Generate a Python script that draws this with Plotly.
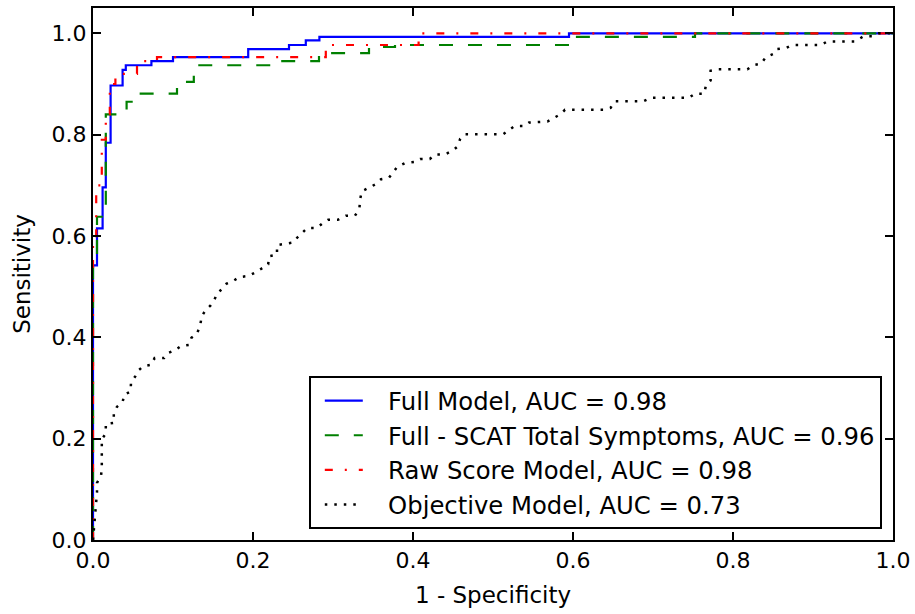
import plotly.graph_objects as go

# ROC corner points (fpr, tpr)
full_fpr = [0.0, 0.0, 0.005, 0.012, 0.016, 0.022, 0.037, 0.041, 0.073, 0.100, 0.194, 0.245, 0.266, 0.283, 0.595, 1.0]
full_tpr = [0.0, 0.542, 0.615, 0.696, 0.784, 0.897, 0.928, 0.937, 0.945, 0.953, 0.969, 0.977, 0.986, 0.993, 1.0, 1.0]

scat_fpr = [0.0, 0.0, 0.005, 0.016, 0.042, 0.057, 0.105, 0.126, 0.230, 0.2825, 0.345, 0.3775, 0.605, 0.7525, 1.0]
scat_tpr = [0.0, 0.55, 0.638, 0.840, 0.865, 0.881, 0.904, 0.937, 0.945, 0.961, 0.973, 0.977, 0.993, 1.0, 1.0]

raw_fpr = [0.0, 0.0, 0.004, 0.011, 0.016, 0.021, 0.028, 0.055, 0.080, 0.291, 0.407, 1.0]
raw_tpr = [0.0, 0.59, 0.70, 0.79, 0.84, 0.90, 0.92, 0.945, 0.953, 0.977, 1.0, 1.0]

obj_fpr = [0.0, 0.004, 0.005, 0.005, 0.010, 0.011, 0.011, 0.011, 0.011, 0.016, 0.016, 0.026, 0.026,
           0.030, 0.037, 0.039, 0.047, 0.0475, 0.0525, 0.057, 0.063, 0.073, 0.077, 0.089, 0.094,
           0.103, 0.110, 0.120, 0.123, 0.130, 0.134, 0.136, 0.141, 0.147, 0.152, 0.155, 0.162,
           0.167, 0.175, 0.183, 0.194, 0.204, 0.211, 0.219, 0.220, 0.230, 0.230, 0.240, 0.250,
           0.256, 0.262, 0.268, 0.280, 0.287, 0.294, 0.306, 0.316, 0.3275, 0.333, 0.334, 0.336,
           0.344, 0.353, 0.360, 0.370, 0.375, 0.380, 0.390, 0.402, 0.409, 0.421, 0.4275, 0.440,
           0.450, 0.456, 0.459, 0.465, 0.513, 0.520, 0.527, 0.539, 0.545, 0.568, 0.577, 0.584,
           0.590, 0.638, 0.647, 0.6525, 0.688, 0.6975, 0.745, 0.7525, 0.764, 0.766, 0.772, 0.772,
           0.782, 0.818, 0.825, 0.835, 0.841, 0.850, 0.855, 0.866, 0.874, 0.910, 0.918, 0.9525,
           0.963, 0.974, 0.982, 1.0]
obj_tpr = [0.0, 0.079, 0.094, 0.113, 0.126, 0.143, 0.162, 0.180, 0.199, 0.210, 0.229, 0.231, 0.250,
           0.263, 0.272, 0.287, 0.293, 0.311, 0.322, 0.335, 0.343, 0.346, 0.359, 0.359, 0.369,
           0.375, 0.383, 0.385, 0.399, 0.407, 0.424, 0.442, 0.454, 0.463, 0.475, 0.487, 0.496,
           0.506, 0.511, 0.519, 0.521, 0.529, 0.536, 0.544, 0.560, 0.563, 0.582, 0.584, 0.587,
           0.598, 0.608, 0.616, 0.616, 0.625, 0.632, 0.632, 0.640, 0.640, 0.654, 0.673, 0.688,
           0.695, 0.702, 0.712, 0.715, 0.725, 0.736, 0.744, 0.746, 0.752, 0.752, 0.761, 0.761,
           0.769, 0.777, 0.792, 0.801, 0.801, 0.809, 0.817, 0.817, 0.824, 0.826, 0.833, 0.840,
           0.849, 0.849, 0.853, 0.866, 0.866, 0.873, 0.873, 0.881, 0.881, 0.896, 0.907, 0.926,
           0.929, 0.929, 0.937, 0.940, 0.953, 0.959, 0.969, 0.971, 0.977, 0.977, 0.984, 0.984,
           0.994, 0.994, 1.0, 1.0]

labels = ["Full Model, AUC = 0.98",
          "Full - SCAT Total Symptoms, AUC = 0.96",
          "Raw Score Model, AUC = 0.98",
          "Objective Model, AUC = 0.73"]

tick_vals = [0.0, 0.2, 0.4, 0.6, 0.8, 1.0]
tick_text = ["0.0", "0.2", "0.4", "0.6", "0.8", "1.0"]

FONT = "DejaVu Sans"
PAD = "\u00a0\u00a0\u2009"

fig = go.Figure()
fig.add_trace(go.Scatter(x=full_fpr, y=full_tpr, mode="lines", name=PAD + labels[0], legendgroup="a",
                         line=dict(color="#0000ff", width=2.2, shape="hv")))
fig.add_trace(go.Scatter(x=scat_fpr, y=scat_tpr, mode="lines", name=PAD + labels[1], legendgroup="b",
                         line=dict(color="#008000", width=2.2, shape="hv", dash="14px,15px")))
fig.add_trace(go.Scatter(x=raw_fpr, y=raw_tpr, mode="lines", name=PAD + labels[2], legendgroup="c",
                         line=dict(color="#ff0000", width=2.2, shape="hv", dash="8px,12px,2px,12px")))
fig.add_trace(go.Scatter(x=obj_fpr, y=obj_tpr, mode="lines", name=PAD + labels[3], legendgroup="d",
                         line=dict(color="#000000", width=2.5, dash="2.5px,7px")))

axis_common = dict(showline=True, linecolor="black", linewidth=2, mirror="ticks",
                   ticks="inside", ticklen=8, tickwidth=1.5, tickcolor="black",
                   showgrid=False, zeroline=False, automargin=False,
                   tickfont=dict(family=FONT, size=22, color="black"),
                   tickvals=tick_vals, ticktext=tick_text)

fig.update_layout(
    width=915, height=614,
    margin=dict(l=93, r=22, t=8, b=74),
    paper_bgcolor="white", plot_bgcolor="white",
    font=dict(family=FONT, color="black"),
    xaxis=dict(range=[0, 1], title=dict(text="1 - Specificity", font=dict(family=FONT, size=23), standoff=14),
               **axis_common),
    yaxis=dict(range=[0, 1.05], title=dict(text="Sensitivity", font=dict(family=FONT, size=23), standoff=15),
               **axis_common),
    legend=dict(x=0.986, y=0.02, xanchor="right", yanchor="bottom",
                bgcolor="white", bordercolor="black", borderwidth=2,
                font=dict(family=FONT, size=24.3, color="black"),
                tracegroupgap=0, itemwidth=38, indentation=9),
    showlegend=True,
)

fig.write_html("out.html",
               config={"displayModeBar": False},
               post_script="document.body.style.margin='0';document.body.style.padding='0';")
